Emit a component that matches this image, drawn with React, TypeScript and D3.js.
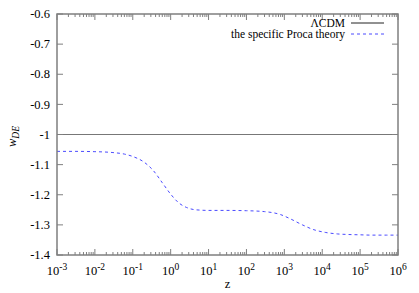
import React from 'react'
import * as d3 from 'd3'

// redshift grid (log spaced samples)
const zValues = [
  0.001, 0.003, 0.01, 0.03, 0.06, 0.1, 0.2, 0.35, 0.6, 1.0, 1.6, 2.6, 4, 6,
  10, 30, 100, 300, 800, 1500, 3000, 6000, 12000, 25000, 50000, 100000,
  200000, 500000, 1000000,
]
const wProca = [
  -1.056, -1.056, -1.057, -1.06, -1.065, -1.073, -1.092, -1.12, -1.16, -1.198,
  -1.226, -1.242, -1.249, -1.251, -1.252, -1.252, -1.253, -1.256, -1.266,
  -1.281, -1.3, -1.316, -1.325, -1.33, -1.332, -1.333, -1.334, -1.334, -1.334,
]
const wLCDM = -1
const yTicks = [-1.4, -1.3, -1.2, -1.1, -1, -0.9, -0.8, -0.7, -0.6]
const xExponents = [-3, -2, -1, 0, 1, 2, 3, 4, 5, 6]
const legendLabels = ['\u039BCDM', 'the specific Proca theory']

const W = 419
const H = 293
const margin = { top: 14, right: 21, bottom: 38, left: 57 }

export default function App() {
  const iw = W - margin.left - margin.right
  const ih = H - margin.top - margin.bottom

  const x = d3.scaleLog().domain([1e-3, 1e6]).range([0, iw])
  const y = d3.scaleLinear().domain([-1.4, -0.6]).range([ih, 0])

  const line = d3
    .line<number>()
    .x((_, i) => x(zValues[i]))
    .y(d => y(d))
    .curve(d3.curveMonotoneX)

  const minor: number[] = []
  xExponents.slice(0, -1).forEach(e => {
    for (let k = 2; k <= 9; k++) minor.push(k * Math.pow(10, e))
  })

  const font = '"Liberation Serif", "Times New Roman", serif'
  const frame = '#7f7f7f'

  return (
    <svg width={W} height={H} style={{ position: 'absolute', left: 0, top: 0, background: '#fff' }} fontFamily={font}>
      <g transform={`translate(${margin.left},${margin.top})`}>
        {/* LCDM reference */}
        <line x1={0} x2={iw} y1={y(wLCDM)} y2={y(wLCDM)} stroke="#777" strokeWidth={1.2} />
        {/* proca curve */}
        <path d={line(wProca) || ''} fill="none" stroke="#4a4aff" strokeWidth={1} strokeDasharray="3,3" />

        {/* ticks */}
        {yTicks.map(t => (
          <g key={'y' + t}>
            <line x1={0} x2={6} y1={y(t)} y2={y(t)} stroke={frame} />
            <line x1={iw - 6} x2={iw} y1={y(t)} y2={y(t)} stroke={frame} />
            <text x={-7} y={y(t)} dy="0.33em" textAnchor="end" fontSize={12.5}>
              {t}
            </text>
          </g>
        ))}
        {xExponents.map(e => {
          const px = x(Math.pow(10, e))
          return (
            <g key={'x' + e}>
              <line x1={px} x2={px} y1={ih} y2={ih - 6} stroke={frame} />
              <line x1={px} x2={px} y1={0} y2={6} stroke={frame} />
              <text x={px} y={ih + 20} textAnchor="middle" fontSize={12.5}>
                10<tspan dy={-5} fontSize={9.5}>{e}</tspan>
              </text>
            </g>
          )
        })}
        {minor.map((m, i) => (
          <g key={'m' + i}>
            <line x1={x(m)} x2={x(m)} y1={ih} y2={ih - 3} stroke={frame} />
            <line x1={x(m)} x2={x(m)} y1={0} y2={3} stroke={frame} />
          </g>
        ))}

        {/* frame */}
        <rect x={0} y={0} width={iw} height={ih} fill="none" stroke={frame} strokeWidth={1.5} />

        {/* legend */}
        {legendLabels.map((lab, i) => (
          <g key={lab} transform={`translate(0,${9 + i * 11})`}>
            <text x={288} y={0} dy="0.33em" textAnchor="end" fontSize={11.5}>
              {lab}
            </text>
            <line
              x1={294}
              x2={327}
              y1={0}
              y2={0}
              stroke={i === 0 ? '#222' : '#4a4aff'}
              strokeWidth={1}
              strokeDasharray={i === 0 ? undefined : '3,3'}
            />
          </g>
        ))}

        {/* axis labels */}
        <text x={iw / 2} y={ih + 33} textAnchor="middle" fontSize={12.5}>
          z
        </text>
      </g>
      <text transform={`translate(16,${margin.top + y(-1) + 2}) rotate(-90)`} textAnchor="middle" fontSize={12.5} fontStyle="italic">
        w<tspan dy={3} fontSize={9.5}>DE</tspan>
      </text>
    </svg>
  )
}
